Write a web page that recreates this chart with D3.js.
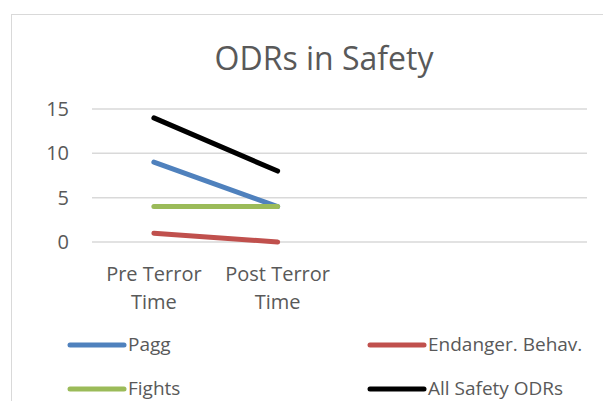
<!DOCTYPE html>
<html>
<head>
<meta charset="utf-8">
<script src="https://cdn.jsdelivr.net/npm/d3@7"></script>
<style>
  body { margin: 0; background: #fff; }
  text { font-family: "Open Sans", "Noto Sans", sans-serif; fill: #595959; }
</style>
</head>
<body>
<div class="canvas"></div>
<script>
// data
const categories = ["Pre Terror Time", "Post Terror Time", "", " "];
const categoryLines = [["Pre Terror", "Time"], ["Post Terror", "Time"]];
const seriesNames = ["Pagg", "Endanger. Behav.", "Fights", "All Safety ODRs"];
const pagg = [9, 4];
const endanger = [1, 0];
const fights = [4, 4];
const allSafety = [14, 8];
const yTicks = [0, 5, 10, 15];
const colors = ["#4f81bd", "#c0504d", "#9bbb59", "#000000"];

const width = 603, height = 401;
const svg = d3.select(".canvas").append("svg")
  .attr("width", width).attr("height", height);

// outer chart border
svg.append("rect")
  .attr("x", 11.5).attr("y", 14.5)
  .attr("width", 620).attr("height", 420)
  .attr("fill", "none").attr("stroke", "#d9d9d9");

svg.append("text")
  .attr("x", 324).attr("y", 70)
  .attr("text-anchor", "middle")
  .style("font-size", "32px")
  .text("ODRs in Safety");

let xScale = d3.scaleBand().domain(categories).range([92, 587]);
let yScale = d3.scaleLinear().domain([0, 15]).range([242, 109]);

// gridlines
svg.selectAll(".grid")
  .data(yTicks)
  .join("line")
  .attr("class", "grid")
  .attr("x1", 92).attr("x2", 587)
  .attr("y1", (d) => yScale(d)).attr("y2", (d) => yScale(d))
  .attr("stroke", "#d9d9d9").attr("stroke-width", 1.5);

svg.selectAll(".ylab")
  .data(yTicks)
  .join("text")
  .attr("class", "ylab")
  .attr("x", 69)
  .attr("y", (d) => yScale(d) + 7)
  .attr("text-anchor", "end")
  .style("font-size", "20px")
  .text((d) => d);

// category labels
categoryLines.forEach((lines, i) => {
  let cx = xScale(categories[i]) + xScale.bandwidth() / 2;
  lines.forEach((ln, j) => {
    svg.append("text")
      .attr("x", cx)
      .attr("y", 281 + j * 28)
      .attr("text-anchor", "middle")
      .style("font-size", "20px")
      .text(ln);
  });
});

const series = [pagg, endanger, fights, allSafety];
const line = d3.line()
  .x((d, i) => xScale(categories[i]) + xScale.bandwidth() / 2)
  .y((d) => yScale(d));

series.forEach((values, k) => {
  svg.append("path")
    .attr("d", line(values))
    .attr("fill", "none")
    .attr("stroke", colors[k])
    .attr("stroke-width", 5)
    .attr("stroke-linecap", "round")
    .attr("stroke-linejoin", "round");
});

// legend
const legendPos = [[70, 345], [370, 345], [70, 389], [370, 389]];
seriesNames.forEach((name, k) => {
  let [lx, ly] = legendPos[k];
  svg.append("line")
    .attr("x1", lx).attr("x2", lx + 54)
    .attr("y1", ly).attr("y2", ly)
    .attr("stroke", colors[k]).attr("stroke-width", 5)
    .attr("stroke-linecap", "round");
  svg.append("text")
    .attr("x", lx + 58).attr("y", ly + 6)
    .style("font-size", "19px")
    .text(name);
});
</script>
</body>
</html>
